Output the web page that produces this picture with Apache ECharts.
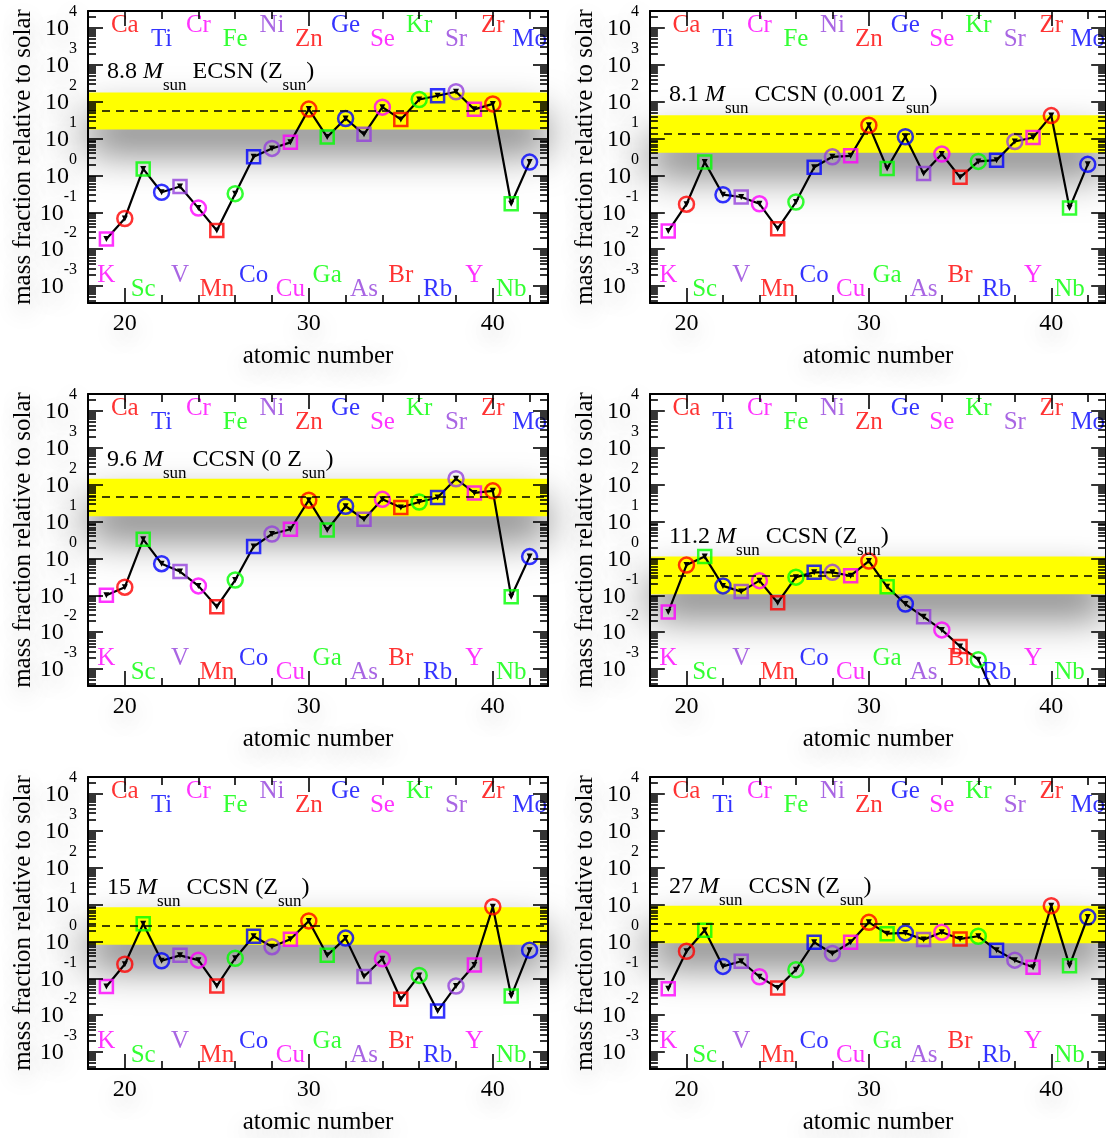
<!DOCTYPE html>
<html>
<head>
<meta charset="utf-8">
<script src="https://cdn.jsdelivr.net/npm/echarts@6/dist/echarts.min.js"></script>
<style>
  html, body { margin: 0; padding: 0; background: #ffffff; }
  #chart { width: 1106px; height: 1138px; }
</style>
</head>
<body>
<div id="chart"></div>
<script>
// ---- data -------------------------------------------------------------
const atomicNumbers = [19, 20, 21, 22, 23, 24, 25, 26, 27, 28, 29, 30,
                       31, 32, 33, 34, 35, 36, 37, 38, 39, 40, 41, 42];
const elementNames = ['K', 'Ca', 'Sc', 'Ti', 'V', 'Cr', 'Mn', 'Fe', 'Co', 'Ni', 'Cu', 'Zn',
                      'Ga', 'Ge', 'As', 'Se', 'Br', 'Kr', 'Rb', 'Sr', 'Y', 'Zr', 'Nb', 'Mo'];

const modelLabels = [
  { mass: '8.8', type: 'ECSN', metal: '' },
  { mass: '8.1', type: 'CCSN', metal: '0.001 ' },
  { mass: '9.6', type: 'CCSN', metal: '0 ' },
  { mass: '11.2', type: 'CCSN', metal: '' },
  { mass: '15', type: 'CCSN', metal: '' },
  { mass: '27', type: 'CCSN', metal: '' }
];

// mass fraction relative to solar, Z = 19 ... 42
const ecsn8p8 = [0.019, 0.068, 1.5, 0.35, 0.50, 0.13, 0.032, 0.32, 3.2, 5.4, 7.9, 63,
                 11, 35, 13, 71, 33, 115, 145, 186, 62, 87, 0.17, 2.3];
const ccsn8p1 = [0.031, 0.166, 2.3, 0.30, 0.26, 0.17, 0.036, 0.19, 1.66, 3.2, 3.4, 23,
                 1.55, 11.2, 1.12, 3.8, 0.89, 2.4, 2.6, 8.3, 10.7, 42, 0.13, 2.0];
const ccsn9p6 = [0.10, 0.166, 3.3, 0.72, 0.44, 0.18, 0.049, 0.26, 2.1, 4.6, 6.2, 38,
                 5.9, 26, 11.5, 40, 24, 34, 45, 145, 60, 68, 0.091, 1.12];
const ccsn11p2 = [0.035, 0.66, 1.12, 0.18, 0.126, 0.25, 0.063, 0.31, 0.42, 0.42, 0.34, 0.85,
                  0.17, 0.058, 0.026, 0.0115, 0.0041, 0.0018, 0.00014, 0.00003, 0.00001, 0.00002, 0.000001, 0.00025];
const ccsn15 = [0.060, 0.24, 3.0, 0.30, 0.42, 0.31, 0.062, 0.35, 1.38, 0.72, 1.15, 3.6,
                0.42, 1.23, 0.112, 0.34, 0.027, 0.12, 0.0129, 0.062, 0.23, 8.7, 0.033, 0.58];
const ccsn27 = [0.052, 0.54, 2.0, 0.21, 0.29, 0.11, 0.055, 0.17, 0.95, 0.47, 0.95, 3.3,
                1.62, 1.7, 1.12, 1.78, 1.17, 1.38, 0.58, 0.31, 0.20, 9.3, 0.22, 4.6];

// production-factor band (dashed line = typical level, band = spread)
const bandLevel = [56, 13.8, 47, 0.34, 2.7, 2.95];
const bandLow = [17.5, 4.1, 14, 0.107, 0.81, 0.89];
const bandHigh = [178, 43, 145, 1.12, 8.5, 9.3];

const xTickMajor = [20, 30, 40];
const xTickMinor = [22, 24, 26, 28, 32, 34, 36, 38, 42];
const yDecades = [1e-3, 1e-2, 1e-1, 1e0, 1e1, 1e2, 1e3, 1e4];

// ---- styling / layout -------------------------------------------------
const seriesValues = [ecsn8p8, ccsn8p1, ccsn9p6, ccsn11p2, ccsn15, ccsn27];
const palette = ['#ff00ff', '#ff0000', '#00ff00', '#0000ff', '#9440dc'];
const FONT = "'Liberation Serif', 'Times New Roman', Times, serif";
const X_MIN = 18, X_MAX = 43;
const Y_MIN = Math.pow(10, -3.46);
const Y_MAX = Math.pow(10, 4.46);
const colLeft = [88, 650];
const colWidth = [460, 461];
const rowTop = [11, 394, 777];
const PANEL_H = 292;
const MAJOR_LEN = 15, MINOR_LEN = 8;                // tick lengths, px
const titleOffset = [61, 84, 66, 143, 111, 110];   // centre of caption text below panel top
// element-name rows (axis units)
const labelRow = { upperHigh: 11700, upperLow: 4800, lowerHigh: 0.0020, lowerLow: 0.00083 };

// minor tick values of the log axis (2..9 x 10^n)
const yMinor = [];
for (let e = -4; e <= 4; e++) {
  for (let m = 2; m <= 9; m++) {
    const v = m * Math.pow(10, e);
    if (v > Y_MIN && v < Y_MAX) yMinor.push(v);
  }
}

const elementColor = i => palette[i % palette.length];
function labelLevel(z) {
  if (z % 2 === 0) return ((z - 20) / 2) % 2 === 0 ? labelRow.upperHigh : labelRow.upperLow;
  return ((z - 19) / 2) % 2 === 0 ? labelRow.lowerHigh : labelRow.lowerLow;
}

const haze = { textShadowColor: 'rgba(0,0,0,0.25)', textShadowBlur: 22, textShadowOffsetY: 8 };
const tickStyle = { color: '#000', width: 1.6 };

const grids = [], xAxes = [], yAxes = [], series = [], graphics = [];

for (let p = 0; p < 6; p++) {
  const col = p % 2, row = Math.floor(p / 2);
  const left = colLeft[col], top = rowTop[row], width = colWidth[col];
  const gA = 2 * p, gB = 2 * p + 1;
  grids.push({ left: left, top: top, width: width, height: PANEL_H, containLabel: false });
  grids.push({ left: left, top: top, width: width, height: PANEL_H, containLabel: false });

  const frame = () => ({ show: true, onZero: false, lineStyle: { color: '#000', width: 2 } });
  const xBase = () => ({ type: 'value', min: X_MIN, max: X_MAX, splitLine: { show: false }, z: 5 });

  // grid A: frame, major x ticks, labels, names, log y axis carrying the data
  xAxes.push(Object.assign(xBase(), {
    gridIndex: gA, position: 'bottom', axisLine: frame(),
    axisTick: { show: true, inside: true, length: MAJOR_LEN, customValues: xTickMajor, lineStyle: tickStyle },
    axisLabel: Object.assign({ show: true, customValues: xTickMajor, margin: 9, fontSize: 24, fontFamily: FONT, color: '#000',
                               showMinLabel: true, showMaxLabel: true }, haze),
    name: 'atomic number', nameLocation: 'middle', nameGap: 41,
    nameTextStyle: Object.assign({ fontSize: 25, fontFamily: FONT, color: '#000' }, haze)
  }));
  xAxes.push(Object.assign(xBase(), {
    gridIndex: gA, position: 'top', axisLine: frame(),
    axisTick: { show: true, inside: true, length: MAJOR_LEN, customValues: xTickMajor, lineStyle: tickStyle },
    axisLabel: { show: false }
  }));
  // grid B: minor x ticks
  xAxes.push(Object.assign(xBase(), {
    gridIndex: gB, position: 'bottom', axisLine: { show: false, onZero: false },
    axisTick: { show: true, inside: true, length: MINOR_LEN, customValues: xTickMinor, lineStyle: tickStyle },
    axisLabel: { show: false }
  }));
  xAxes.push(Object.assign(xBase(), {
    gridIndex: gB, position: 'top', axisLine: { show: false, onZero: false },
    axisTick: { show: true, inside: true, length: MINOR_LEN, customValues: xTickMinor, lineStyle: tickStyle },
    axisLabel: { show: false }
  }));

  yAxes.push({
    gridIndex: gA, type: 'log', logBase: 10, min: Y_MIN, max: Y_MAX, position: 'left', z: 5,
    splitLine: { show: false }, axisLine: frame(), axisTick: { show: false },
    axisLabel: Object.assign({
      show: true, customValues: yDecades, margin: 11, showMinLabel: true, showMaxLabel: true,
      verticalAlign: 'bottom',
      formatter: v => '{b|10}{s|' + Math.round(Math.log10(v)) + '}',
      rich: {
        b: { fontSize: 24, lineHeight: 24, fontFamily: FONT, color: '#000', padding: [13, 0, 0, 0], verticalAlign: 'top' },
        s: { fontSize: 16, lineHeight: 16, fontFamily: FONT, color: '#000', verticalAlign: 'top' }
      }
    }, haze),
    name: 'mass fraction relative to solar', nameLocation: 'middle', nameGap: 52,
    nameTextStyle: Object.assign({ fontSize: 25, fontFamily: FONT, color: '#000' }, haze)
  });
  yAxes.push({
    gridIndex: gA, type: 'log', logBase: 10, min: Y_MIN, max: Y_MAX, position: 'right', z: 5,
    splitLine: { show: false }, axisLine: frame(), axisTick: { show: false }, axisLabel: { show: false }
  });
  yAxes.push({ gridIndex: gB, type: 'value', min: 1, max: 2, show: false });

  const xi = 4 * p, yi = 3 * p;
  const vals = seriesValues[p];

  // yellow band with dashed reference level
  series.push({
    type: 'line', xAxisIndex: xi, yAxisIndex: yi, data: [], z: 1, silent: true,
    markArea: {
      silent: true,
      itemStyle: { color: '#ffff00', shadowColor: 'rgba(0,0,0,0.55)', shadowBlur: 40, shadowOffsetY: 22 },
      data: [[{ yAxis: bandLow[p] }, { yAxis: bandHigh[p] }]]
    },
    markLine: {
      silent: true, symbol: 'none', label: { show: false },
      lineStyle: { color: '#000', type: [8, 6], width: 1.5 },
      data: [{ yAxis: bandLevel[p] }]
    }
  });

  // inward decade / sub-decade ticks on the left and right frame of the log axis
  const unitsPerPx = (X_MAX - X_MIN) / width;
  const tickSegs = [];
  const addTicks = (values, len) => values.forEach(v => {
    const d = len * unitsPerPx;
    tickSegs.push([{ coord: [X_MIN, v] }, { coord: [X_MIN + d, v] }]);
    tickSegs.push([{ coord: [X_MAX - d, v] }, { coord: [X_MAX, v] }]);
  });
  addTicks(yDecades, MAJOR_LEN);
  addTicks(yMinor, MINOR_LEN);
  series.push({
    type: 'line', xAxisIndex: xi, yAxisIndex: yi, data: [], z: 5, silent: true,
    markLine: {
      silent: true, symbol: 'none', label: { show: false }, animation: false,
      lineStyle: { color: '#000', type: 'solid', width: 1.6 },
      emphasis: { disabled: true },
      data: tickSegs
    }
  });

  // connecting line
  series.push({
    type: 'line', xAxisIndex: xi, yAxisIndex: yi, z: 3, clip: true, silent: true,
    data: atomicNumbers.map((z, i) => [z, vals[i]]),
    symbol: 'triangle', symbolRotate: 180, symbolSize: 6, showAllSymbol: true,
    itemStyle: { color: '#000' },
    lineStyle: { color: '#000', width: 2.2 }
  });

  // element markers: circles for even Z, squares for odd Z
  series.push({
    type: 'scatter', xAxisIndex: xi, yAxisIndex: yi, z: 4, clip: true, silent: true,
    data: atomicNumbers.map((z, i) => ({
      value: [z, vals[i]],
      symbol: z % 2 === 0 ? 'circle' : 'rect',
      symbolSize: z % 2 === 0 ? 15 : 13,
      itemStyle: { color: 'rgba(0,0,0,0)', borderColor: elementColor(i), borderWidth: 2.5 }
    }))
  });

  // element names
  series.push({
    type: 'scatter', xAxisIndex: xi, yAxisIndex: yi, z: 4, clip: false, silent: true,
    symbolSize: 1, itemStyle: { color: 'rgba(0,0,0,0)' },
    label: { show: true, position: 'inside', fontSize: 25, fontFamily: FONT,
             formatter: prm => elementNames[prm.dataIndex] },
    data: atomicNumbers.map((z, i) => ({
      value: [z, labelLevel(z)],
      label: { color: elementColor(i) }
    }))
  });

  // caption
  const m = modelLabels[p];
  graphics.push({
    type: 'text', x: left + 19, y: top + titleOffset[p] - 12, z: 6, silent: true,
    style: {
      text: '{n|' + m.mass + ' }{i|M}{s|sun}{n| ' + m.type + ' (' + m.metal + 'Z}{s|sun}{n|)}',
      align: 'left', verticalAlign: 'top',
      rich: {
        n: { fontSize: 24, lineHeight: 24, fontFamily: FONT, fill: '#000', verticalAlign: 'top' },
        i: { fontSize: 24, lineHeight: 24, fontFamily: FONT, fontStyle: 'italic', fill: '#000', verticalAlign: 'top' },
        s: { fontSize: 17, lineHeight: 17, fontFamily: FONT, fill: '#000', padding: [17, 0, 0, 0], verticalAlign: 'top' }
      }
    }
  });
}

const chart = echarts.init(document.getElementById('chart'), null, { renderer: 'canvas' });
chart.setOption({
  animation: false,
  backgroundColor: '#ffffff',
  grid: grids,
  xAxis: xAxes,
  yAxis: yAxes,
  series: series,
  graphic: graphics
});
</script>
</body>
</html>
